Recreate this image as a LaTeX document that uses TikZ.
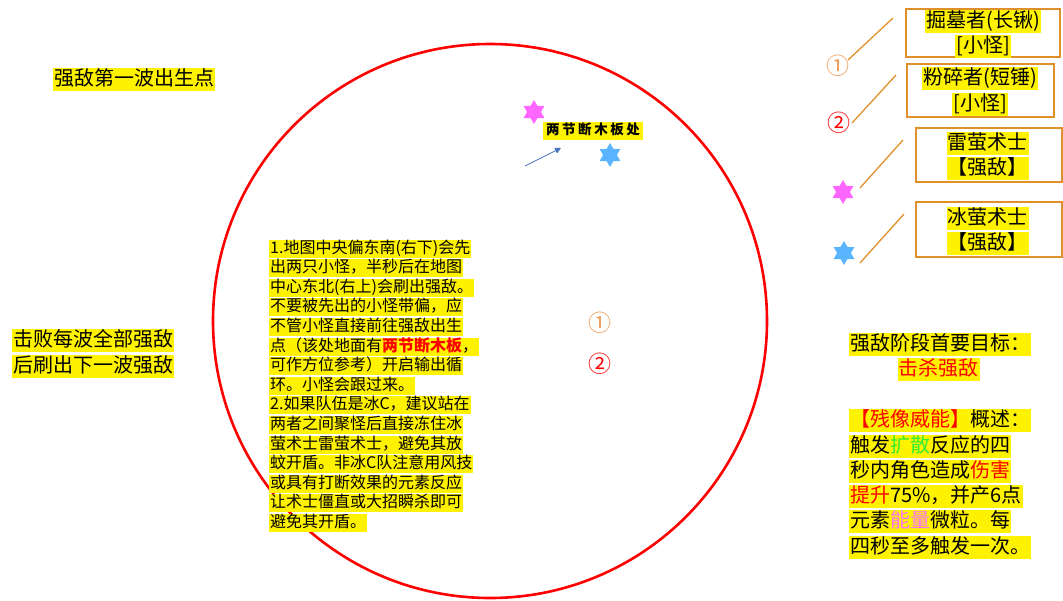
\documentclass[tikz,border=0pt]{standalone}
\usepackage{fontspec}
\setmainfont{Noto Sans CJK SC}
\usetikzlibrary{shapes.geometric,arrows.meta}
\definecolor{boxor}{HTML}{E0902A}
\definecolor{numor}{HTML}{EE9A52}
\definecolor{starpink}{HTML}{FF66FF}
\definecolor{starblue}{HTML}{5AB4FF}
\definecolor{arrblue}{HTML}{4A72C0}
\definecolor{diffgreen}{HTML}{33EE33}
\definecolor{enpink}{HTML}{FF70FF}
\newcommand{\plgap}{\hspace{2.6pt}}
\begin{document}
\begin{tikzpicture}[x=1pt,y=-1pt,
  hl/.style={fill=yellow, inner xsep=1pt, inner ysep=1pt, text height=16.5pt, text depth=4.5pt, font=\fontsize{20}{24}\selectfont},
  hs/.style={fill=yellow, inner xsep=1pt, inner ysep=1pt, text height=12.5pt, text depth=3.5pt, font=\fontsize{16}{19}\selectfont, anchor=west},
  legbox/.style={draw=boxor, line width=1.6pt, rectangle, inner sep=0pt},
  legline/.style={draw=boxor, line width=1.3pt},
  hexstar/.style={star, star points=6, star point ratio=1.73, minimum size=24pt, inner sep=0pt, draw=none},
  numsym/.style={font=\fontsize{23}{26}\selectfont, inner sep=0pt}
]
\useasboundingbox (0,0) rectangle (1063,600);

% big circle
\draw[red, line width=2.6pt] (490,321) circle[radius=277];

% left labels
\node[hl] (spawn) at (134,79) {强敌第一波出生点};
\node[hl, anchor=west] (rule1) at (12,340.5) {击败每波全部强敌};
\node[hl, anchor=west] (rule2) at (12,366.5) {后刷出下一波强敌};

% stars and plank label
\node[hexstar, fill=starpink] (pstar) at (534,112) {};
\node[hexstar, fill=starblue] (bstar) at (610,155) {};
\node[fill=yellow, inner xsep=3pt, inner ysep=1pt, text height=12pt, text depth=4pt, font=\fontsize{13.5}{15}\selectfont\bfseries] (plank) at (593,130.5) {两\plgap 节\plgap 断\plgap 木\plgap 板\plgap 处};
\coordinate (arrS) at (525,166);
\coordinate (arrE) at (561,148);
\draw[arrblue, line width=0.8pt, -{Triangle[length=6pt,width=6pt]}] (arrS) -- (arrE);

% center numbers
\node[numsym, text=numor] (n1) at (600,323) {①};
\node[numsym, text=red] (n2) at (600,364) {②};

% notes in circle
\node[hs] (t1) at (269,248.5) {1.地图中央偏东南(右下)会先};
\node[hs] (t2) at (269,268.1) {出两只小怪，半秒后在地图};
\node[hs] (t3) at (269,287.7) {中心东北(右上)会刷出强敌。};
\node[hs] (t4) at (269,307.3) {不要被先出的小怪带偏，应};
\node[hs] (t5) at (269,326.9) {不管小怪直接前往强敌出生};
\node[hs] (t6) at (269,346.5) {点（该处地面有\textcolor{red}{\bfseries 两节断木板}，};
\node[hs] (t7) at (269,366.1) {可作方位参考）开启输出循};
\node[hs] (t8) at (269,385.7) {环。小怪会跟过来。};
\node[hs] (t9) at (269,405.3) {2.如果队伍是冰C，建议站在};
\node[hs] (t10) at (269,424.9) {两者之间聚怪后直接冻住冰};
\node[hs] (t11) at (269,444.5) {萤术士雷萤术士，避免其放};
\node[hs] (t12) at (269,464.1) {蚊开盾。非冰C队注意用风技};
\node[hs] (t13) at (269,483.7) {或具有打断效果的元素反应};
\node[hs] (t14) at (269,503.3) {让术士僵直或大招瞬杀即可};
\node[hs] (t15) at (269,522.9) {避免其开盾。};

% legend boxes
\node[legbox, minimum width=154pt, minimum height=48pt] (b1) at (983,33) {};
\node[hl] (b1a) at (983,21) {掘墓者(长锹)};
\node[hl] (b1b) at (983,46) {[小怪]};
\node[legbox, minimum width=147pt, minimum height=53pt] (b2) at (980.5,90.5) {};
\node[hl] (b2a) at (980,78.5) {粉碎者(短锤)};
\node[hl] (b2b) at (980,104.5) {[小怪]};
\node[legbox, minimum width=146pt, minimum height=54pt] (b3) at (989,155) {};
\node[hl] (b3a) at (987.5,143.5) {雷萤术士};
\node[hl] (b3b) at (987.5,168.5) {【强敌】};
\node[legbox, minimum width=146pt, minimum height=55pt] (b4) at (989,229.5) {};
\node[hl] (b4a) at (987.5,218.5) {冰萤术士};
\node[hl] (b4b) at (987.5,243.5) {【强敌】};

% legend symbols and lines
\node[numsym, text=numor] (l1) at (838,66) {①};
\node[numsym, text=red] (l2) at (839,123) {②};
\node[hexstar, fill=starpink] (l3) at (843,192) {};
\node[hexstar, fill=starblue] (l4) at (844,253) {};
\coordinate (c1a) at (848,60);  \coordinate (c1b) at (893,18);
\coordinate (c2a) at (852,123); \coordinate (c2b) at (896,75);
\coordinate (c3a) at (860,188); \coordinate (c3b) at (903,140);
\coordinate (c4a) at (860,263); \coordinate (c4b) at (904,214);
\draw[legline] (c1a) -- (c1b);
\draw[legline] (c2a) -- (c2b);
\draw[legline] (c3a) -- (c3b);
\draw[legline] (c4a) -- (c4b);

% right notes
\node[hl, anchor=west] (g1) at (849,344) {强敌阶段首要目标：};
\node[hl, text=red] (g2) at (938.5,369) {击杀强敌};
\node[hl, anchor=west] (r1) at (849,420.5) {\textcolor{red}{【残像威能】}概述：};
\node[hl, anchor=west] (r2) at (849,446) {触发\textcolor{diffgreen}{扩散}反应的四};
\node[hl, anchor=west] (r3) at (849,471) {秒内角色造成\textcolor{red}{伤害}};
\node[hl, anchor=west] (r4) at (849,496) {\textcolor{red}{提升}75\%，并产6点};
\node[hl, anchor=west] (r5) at (849,521.5) {元素\textcolor{enpink}{能量}微粒。每};
\node[hl, anchor=west] (r6) at (849,547) {四秒至多触发一次。};
\end{tikzpicture}
\end{document}
